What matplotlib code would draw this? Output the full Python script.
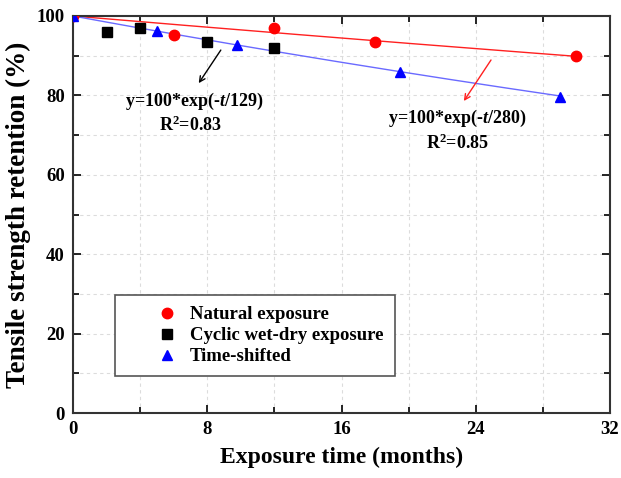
import numpy as np
import matplotlib
matplotlib.use("Agg")
import matplotlib.pyplot as plt
from matplotlib.ticker import MultipleLocator

# * Data

# Natural exposure.
t_nat = [0, 6, 12, 18, 30]
r_nat = [100, 95.2, 97.1, 93.4, 89.9]

# Cyclic wet-dry exposure.
t_wd = [2, 4, 8, 12]
r_wd = [96.0, 97.0, 93.5, 91.9]

# Time-shifted wet-dry results.
t_ts = [0, 5, 9.8, 19.5, 29]
r_ts = [100, 96.1, 92.7, 85.9, 79.7]

# Fit constants (months) and R^2.
tau_nat, r2_nat = 280, 0.85
tau_ts, r2_ts = 129, 0.83

# * Plot

plt.rcParams['font.family'] = ['Liberation Serif', 'DejaVu Serif']
plt.rcParams['font.weight'] = 'bold'
plt.rcParams['mathtext.fontset'] = 'custom'
plt.rcParams['mathtext.rm'] = 'Liberation Serif:bold'
plt.rcParams['mathtext.it'] = 'Liberation Serif:italic:bold'

fig = plt.figure(figsize=(6.21, 4.78), dpi=100)
ax = fig.add_axes([73/621, 65/478, 537/621, 397/478])

# Fitted curves.
t = np.linspace(0, 30, 200)
ax.plot(t, 100*np.exp(-t/tau_nat), color='#ff2020', lw=1.0, zorder=2)
t = np.linspace(0, 29, 200)
ax.plot(t, 100*np.exp(-t/tau_ts), color='#6a6aff', lw=1.0, zorder=2)

ax.plot(t_nat, r_nat, 'o', color='#ff0000', ms=7.5, label='Natural exposure', zorder=3)
ax.plot(t_wd, r_wd, 's', color='black', ms=6.5, label='Cyclic wet-dry exposure', zorder=3)
ax.plot(t_ts, r_ts, '^', color='#0000ff', ms=7.5, label='Time-shifted', zorder=3)

ax.set_xlim(0, 32)
ax.set_ylim(0, 100)
ax.xaxis.set_major_locator(MultipleLocator(8))
ax.xaxis.set_minor_locator(MultipleLocator(4))
ax.yaxis.set_major_locator(MultipleLocator(20))
ax.yaxis.set_minor_locator(MultipleLocator(10))
ax.tick_params(which='both', direction='in', top=True, right=True,
               labeltop=False, labelright=False, width=1.2)
ax.tick_params(which='major', length=6, labelsize=13.5, pad=6)
ax.tick_params(which='minor', length=4)
for lab in ax.get_xticklabels() + ax.get_yticklabels():
    lab.set_fontweight('bold')
for sp in ax.spines.values():
    sp.set_linewidth(1.5)
    sp.set_color('#333333')

ax.grid(True, which='both', color='#dcdcdc', ls=(0, (3, 3)), lw=0.8)
ax.set_axisbelow(True)

ax.set_xlabel('Exposure time (months)', fontsize=17, fontweight='bold', labelpad=6)
ax.set_ylabel('Tensile strength retention (%)', fontsize=19.5, fontweight='bold', labelpad=4)

# Fit equations with arrows.
ax.annotate('', xy=(7.4, 82.5), xytext=(8.9, 92.0),
            arrowprops=dict(arrowstyle='->', color='black', lw=1.0))
ax.text(7.2, 78.6, 'y=100*exp(-$t$/%d)' % tau_ts, ha='center', va='center',
        fontsize=13, fontweight='bold')
ax.text(7.0, 72.4, 'R$^2$=%.2f' % r2_ts, ha='center', va='center',
        fontsize=13, fontweight='bold')

ax.annotate('', xy=(23.2, 78.0), xytext=(25.0, 89.5),
            arrowprops=dict(arrowstyle='->', color='#ff2020', lw=1.0))
ax.text(22.9, 74.2, 'y=100*exp(-$t$/%d)' % tau_nat, ha='center', va='center',
        fontsize=13, fontweight='bold')
ax.text(22.9, 68.0, 'R$^2$=%.2f' % r2_nat, ha='center', va='center',
        fontsize=13, fontweight='bold')

leg = ax.legend(loc='upper left', bbox_to_anchor=(42/537, 118/397),
                prop={'family': 'Liberation Serif', 'weight': 'bold', 'size': 13.5},
                fancybox=False, framealpha=1, edgecolor='#555555',
                handletextpad=-0.9, borderpad=0.6, labelspacing=0.2,
                borderaxespad=0, handlelength=4.3)
leg.get_frame().set_linewidth(1.2)

plt.savefig('out.png', dpi=100)
